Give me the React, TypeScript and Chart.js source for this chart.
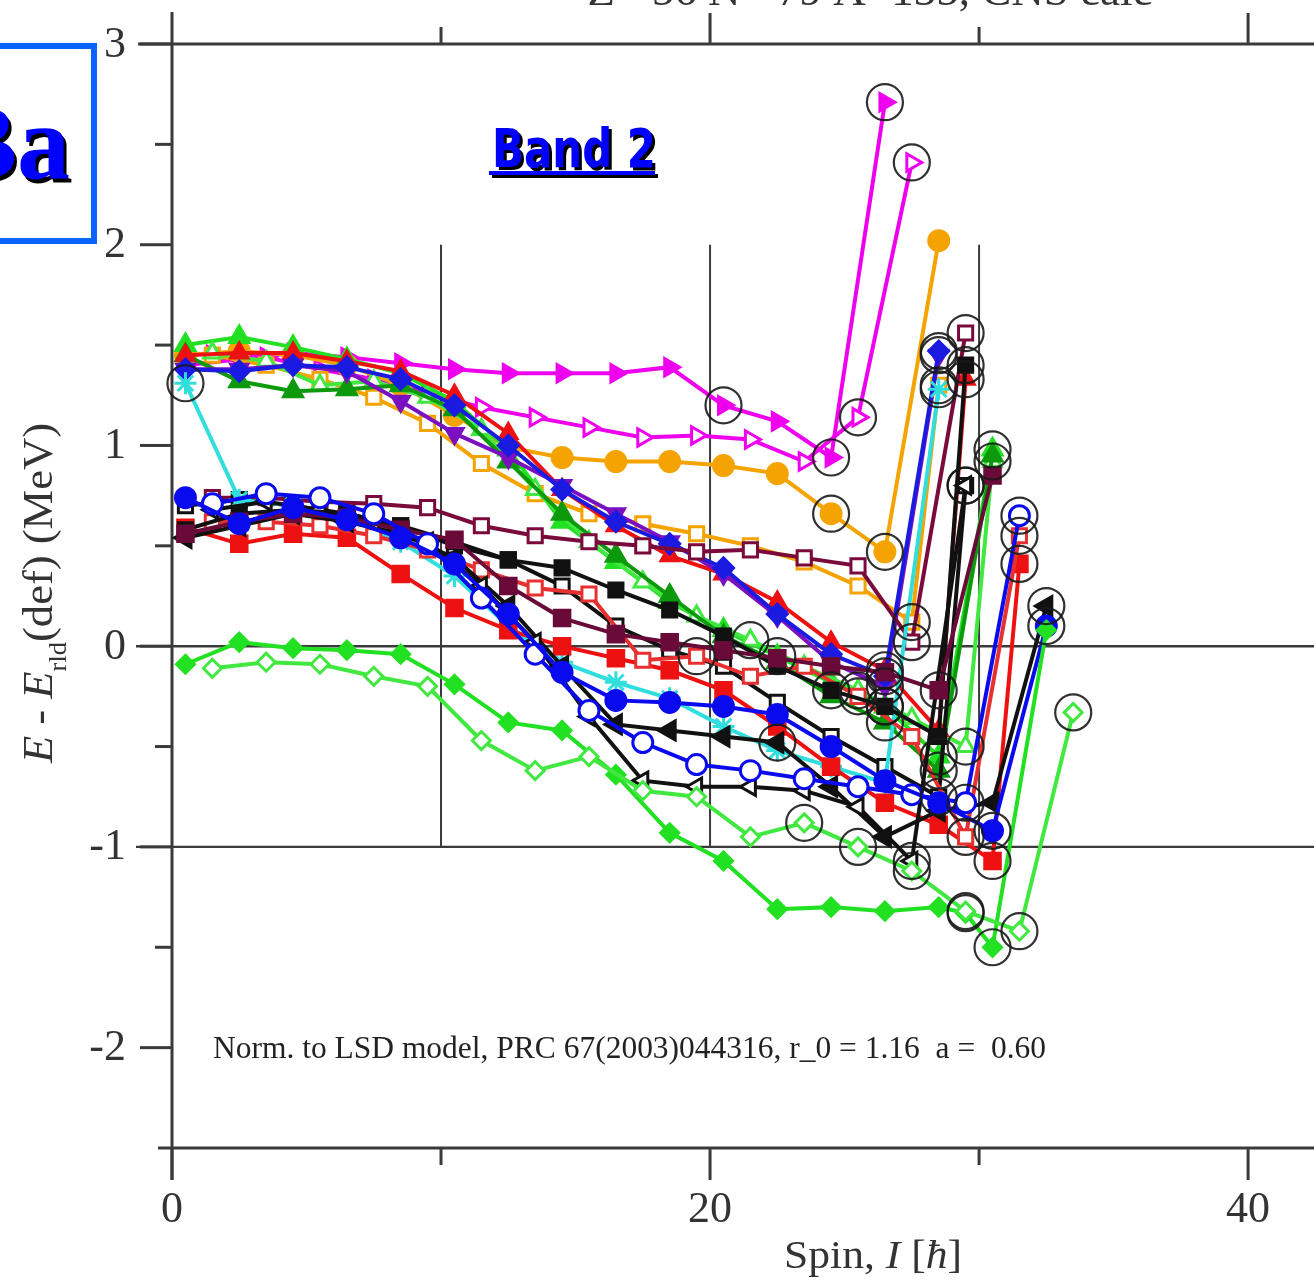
import React, { useEffect, useRef } from 'react';
import { Chart, registerables } from 'chart.js';

Chart.register(...registerables);

const W = 1314;
const H = 1287;

// axis ranges
const X_MIN = 0;
const X_MAX = 42.45;
const Y_MIN = -2.5;
const Y_MAX = 3;

// ticks
const yMajorTicks = [3, 2, 1, 0, -1, -2];
const yMinorTicks = [2.5, 1.5, 0.5, -0.5, -1.5];
const yTickLabels = ['3', '2', '1', '0', '-1', '-2'];
const xMajorTicks = [0, 20, 40];
const xMinorTicks = [10, 30];
const xTickLabels = ['0', '20', '40'];
const innerVLines = [10, 20, 30];
const innerHLines = [0, -1];

// ---- series data (spin I, energy E in MeV) ----
const magFilledI = [0.5, 2.5, 4.5, 6.5, 8.5, 10.5, 12.5, 14.5, 16.5, 18.5, 20.5, 22.5, 24.5, 26.5];
const magFilledE = [1.40, 1.43, 1.46, 1.44, 1.41, 1.38, 1.36, 1.36, 1.36, 1.39, 1.20, 1.12, 0.94, 2.71];

const magOpenI = [1.5, 3.5, 5.5, 7.5, 9.5, 11.5, 13.5, 15.5, 17.5, 19.5, 21.5, 23.5, 25.5, 27.5];
const magOpenE = [1.45, 1.44, 1.38, 1.33, 1.26, 1.19, 1.14, 1.09, 1.04, 1.05, 1.03, 0.92, 1.14, 2.41];

const orFilledI = [0.5, 2.5, 4.5, 6.5, 8.5, 10.5, 12.5, 14.5, 16.5, 18.5, 20.5, 22.5, 24.5, 26.5, 28.5];
const orFilledE = [1.45, 1.47, 1.45, 1.40, 1.30, 1.15, 0.99, 0.94, 0.92, 0.92, 0.90, 0.86, 0.66, 0.47, 2.02];

const orOpenI = [1.5, 3.5, 5.5, 7.5, 9.5, 11.5, 13.5, 15.5, 17.5, 19.5, 21.5, 23.5, 25.5, 27.5, 28.5];
const orOpenE = [1.45, 1.40, 1.33, 1.24, 1.11, 0.91, 0.76, 0.66, 0.61, 0.56, 0.50, 0.42, 0.30, 0.12, 1.30];

const marOpenI = [1.5, 3.5, 5.5, 7.5, 9.5, 11.5, 13.5, 15.5, 17.5, 19.5, 21.5, 23.5, 25.5, 27.5, 29.5];
const marOpenE = [0.74, 0.74, 0.72, 0.71, 0.69, 0.60, 0.55, 0.52, 0.50, 0.47, 0.48, 0.44, 0.40, 0.02, 1.56];

const blkOpenSqI = [0.5, 2.5, 4.5, 6.5, 8.5, 10.5, 12.5, 14.5, 16.5, 18.5, 20.5, 22.5, 24.5, 26.5, 28.5, 29.5];
const blkOpenSqE = [0.70, 0.73, 0.70, 0.66, 0.60, 0.50, 0.43, 0.30, 0.10, -0.02, -0.10, -0.28, -0.45, -0.60, -0.75, 0.80];

const grFilledI = [0.5, 2.5, 4.5, 6.5, 8.5, 10.5, 12.5, 14.5, 16.5, 18.5, 20.5, 22.5, 24.5, 26.5, 28.5, 30.5];
const grFilledE = [1.50, 1.54, 1.49, 1.43, 1.36, 1.22, 0.98, 0.62, 0.42, 0.22, 0.08, -0.05, -0.18, -0.30, -0.55, 0.98];

const grOpenI = [1.5, 3.5, 5.5, 7.5, 9.5, 11.5, 13.5, 15.5, 17.5, 19.5, 21.5, 23.5, 25.5, 27.5, 29.5, 30.5];
const grOpenE = [1.46, 1.42, 1.30, 1.32, 1.24, 1.08, 0.78, 0.52, 0.32, 0.15, 0.03, -0.10, -0.22, -0.36, -0.50, 0.92];

const dkGrI = [0.5, 2.5, 4.5, 6.5, 8.5, 10.5, 12.5, 14.5, 16.5, 18.5, 20.5, 22.5, 24.5, 26.5, 28.5, 30.5];
const dkGrE = [1.45, 1.32, 1.27, 1.28, 1.30, 1.18, 0.92, 0.66, 0.45, 0.25, 0.05, -0.08, -0.25, -0.38, -0.62, 0.95];

const redTriI = [0.5, 2.5, 4.5, 6.5, 8.5, 10.5, 12.5, 14.5, 16.5, 18.5, 20.5, 22.5, 24.5, 26.5, 28.5, 29.5];
const redTriE = [1.45, 1.46, 1.46, 1.42, 1.37, 1.25, 1.06, 0.78, 0.60, 0.45, 0.36, 0.22, 0.02, -0.12, -0.42, 1.33];

const purI = [0.5, 2.5, 4.5, 6.5, 8.5, 10.5, 12.5, 14.5, 16.5, 18.5, 20.5, 22.5, 24.5, 26.5, 28.5];
const purE = [1.38, 1.38, 1.40, 1.37, 1.22, 1.06, 0.94, 0.80, 0.66, 0.52, 0.36, 0.15, -0.08, -0.20, 1.45];

const bluUpI = [0.5, 2.5, 4.5, 6.5, 8.5, 10.5, 12.5, 14.5, 16.5, 18.5, 20.5, 22.5, 24.5, 26.5, 28.5];
const bluUpE = [1.38, 1.37, 1.40, 1.39, 1.33, 1.20, 1.00, 0.78, 0.62, 0.51, 0.39, 0.16, -0.04, -0.15, 1.47];

const cyanI = [0.5, 2.5, 4.5, 6.5, 8.5, 10.5, 12.5, 14.5, 16.5, 18.5, 20.5, 22.5, 24.5, 26.5, 28.5];
const cyanE = [1.31, 0.73, 0.70, 0.64, 0.52, 0.35, 0.10, -0.08, -0.18, -0.26, -0.40, -0.52, -0.60, -0.68, 1.28];

const bluFilledI = [0.5, 2.5, 4.5, 6.5, 8.5, 10.5, 12.5, 14.5, 16.5, 18.5, 20.5, 22.5, 24.5, 26.5, 28.5, 30.5, 32.5];
const bluFilledE = [0.74, 0.61, 0.69, 0.63, 0.54, 0.41, 0.16, -0.13, -0.27, -0.28, -0.30, -0.34, -0.50, -0.67, -0.78, -0.92, 0.10];

const bluOpenI = [1.5, 3.5, 5.5, 7.5, 9.5, 11.5, 13.5, 15.5, 17.5, 19.5, 21.5, 23.5, 25.5, 27.5, 29.5, 31.5];
const bluOpenE = [0.71, 0.76, 0.74, 0.66, 0.51, 0.24, -0.04, -0.32, -0.48, -0.59, -0.62, -0.66, -0.70, -0.74, -0.78, 0.65];

const redSqI = [0.5, 2.5, 4.5, 6.5, 8.5, 10.5, 12.5, 14.5, 16.5, 18.5, 20.5, 22.5, 24.5, 26.5, 28.5, 30.5, 31.5];
const redSqE = [0.59, 0.51, 0.56, 0.54, 0.36, 0.19, 0.08, 0.00, -0.06, -0.12, -0.22, -0.40, -0.60, -0.78, -0.89, -1.07, 0.41];

const redOpenI = [1.5, 3.5, 5.5, 7.5, 9.5, 11.5, 13.5, 15.5, 17.5, 19.5, 21.5, 23.5, 25.5, 27.5, 29.5, 31.5];
const redOpenE = [0.62, 0.62, 0.60, 0.55, 0.48, 0.38, 0.29, 0.26, -0.07, -0.05, -0.15, -0.10, -0.25, -0.45, -0.95, 0.55];

const blkTriI = [0.5, 2.5, 4.5, 6.5, 8.5, 10.5, 12.5, 14.5, 16.5, 18.5, 20.5, 22.5, 24.5, 26.5, 28.5, 30.5, 32.5];
const blkTriE = [0.54, 0.60, 0.66, 0.62, 0.56, 0.44, 0.20, -0.10, -0.39, -0.42, -0.45, -0.48, -0.70, -0.95, -0.82, -0.78, 0.20];

const blkOpenTriI = [1.5, 3.5, 5.5, 7.5, 9.5, 11.5, 13.5, 15.5, 17.5, 19.5, 21.5, 23.5, 25.5, 27.5, 29.5];
const blkOpenTriE = [0.68, 0.72, 0.68, 0.62, 0.52, 0.30, 0.02, -0.35, -0.67, -0.70, -0.70, -0.72, -0.80, -1.07, 0.80];

const blkSqI = [0.5, 2.5, 4.5, 6.5, 8.5, 10.5, 12.5, 14.5, 16.5, 18.5, 20.5, 22.5, 24.5, 26.5, 28.5, 29.5];
const blkSqE = [0.58, 0.66, 0.68, 0.66, 0.60, 0.52, 0.43, 0.39, 0.28, 0.18, 0.05, -0.10, -0.22, -0.30, -0.45, 1.40];

const marSqI = [0.5, 2.5, 4.5, 6.5, 8.5, 10.5, 12.5, 14.5, 16.5, 18.5, 20.5, 22.5, 24.5, 26.5, 28.5, 30.5];
const marSqE = [0.56, 0.62, 0.66, 0.64, 0.58, 0.53, 0.30, 0.14, 0.06, 0.02, -0.02, -0.06, -0.10, -0.13, -0.22, 0.85];

const grDiaI = [0.5, 2.5, 4.5, 6.5, 8.5, 10.5, 12.5, 14.5, 16.5, 18.5, 20.5, 22.5, 24.5, 26.5, 28.5, 29.5, 30.5, 32.5];
const grDiaE = [-0.09, 0.02, -0.01, -0.02, -0.04, -0.19, -0.38, -0.42, -0.64, -0.93, -1.07, -1.31, -1.30, -1.32, -1.30, -1.33, -1.50, 0.08];

const grOpenDiaI = [1.5, 3.5, 5.5, 7.5, 9.5, 11.5, 13.5, 15.5, 17.5, 19.5, 21.5, 23.5, 25.5, 27.5, 29.5, 31.5, 33.5];
const grOpenDiaE = [-0.11, -0.08, -0.09, -0.15, -0.20, -0.47, -0.62, -0.55, -0.72, -0.75, -0.95, -0.88, -1.00, -1.12, -1.32, -1.42, -0.33];

// ---- styles ----
type Def = {
  I: number[];
  E: number[];
  color: string;
  shape: string;
  rot: number;
  open: boolean;
  r: number;
  rings: number[];
};

const seriesDefs: Def[] = [
  { I: magFilledI, E: magFilledE, color: '#ee00ee', shape: 'triangle', rot: 90, open: false, r: 10, rings: [10, 12, 13] },
  { I: magOpenI, E: magOpenE, color: '#ee00ee', shape: 'triangle', rot: 90, open: true, r: 10, rings: [12, 13] },
  { I: orFilledI, E: orFilledE, color: '#f5a300', shape: 'circle', rot: 0, open: false, r: 10, rings: [12, 13] },
  { I: orOpenI, E: orOpenE, color: '#f5a300', shape: 'rect', rot: 0, open: true, r: 10, rings: [13, 14] },
  { I: grFilledI, E: grFilledE, color: '#22e022', shape: 'triangle', rot: 0, open: false, r: 11, rings: [11, 13, 14, 15] },
  { I: grOpenI, E: grOpenE, color: '#40e840', shape: 'triangle', rot: 0, open: true, r: 10, rings: [10, 12, 14, 15] },
  { I: dkGrI, E: dkGrE, color: '#0c9a0c', shape: 'triangle', rot: 0, open: false, r: 11, rings: [13, 14] },
  { I: redTriI, E: redTriE, color: '#ee1111', shape: 'triangle', rot: 0, open: false, r: 10, rings: [13, 15] },
  { I: purI, E: purE, color: '#7a10c0', shape: 'triangle', rot: 180, open: false, r: 10, rings: [13, 14] },
  { I: bluUpI, E: bluUpE, color: '#1a1ae0', shape: 'rectRot', rot: 0, open: false, r: 10, rings: [13, 14] },
  { I: marOpenI, E: marOpenE, color: '#7a0a3c', shape: 'rect', rot: 0, open: true, r: 10, rings: [13, 14] },
  { I: blkOpenSqI, E: blkOpenSqE, color: '#111111', shape: 'rect', rot: 0, open: true, r: 10, rings: [14, 15] },
  { I: cyanI, E: cyanE, color: '#30dede', shape: 'star', rot: 0, open: true, r: 11, rings: [0, 14] },
  { I: redSqI, E: redSqE, color: '#ee1111', shape: 'rect', rot: 0, open: false, r: 11, rings: [15, 16] },
  { I: redOpenI, E: redOpenE, color: '#e83030', shape: 'rect', rot: 0, open: true, r: 10, rings: [9, 12, 14, 15] },
  { I: blkTriI, E: blkTriE, color: '#111111', shape: 'triangle', rot: -90, open: false, r: 11, rings: [11, 16] },
  { I: blkOpenTriI, E: blkOpenTriE, color: '#111111', shape: 'triangle', rot: -90, open: true, r: 10, rings: [13, 14] },
  { I: blkSqI, E: blkSqE, color: '#111111', shape: 'rect', rot: 0, open: false, r: 10, rings: [12, 13, 15] },
  { I: marSqI, E: marSqE, color: '#6a0a38', shape: 'rect', rot: 0, open: false, r: 11, rings: [14] },
  { I: bluOpenI, E: bluOpenE, color: '#0a0aee', shape: 'circle', rot: 0, open: true, r: 10, rings: [14, 15] },
  { I: bluFilledI, E: bluFilledE, color: '#0a0aee', shape: 'circle', rot: 0, open: false, r: 10, rings: [15, 16] },
  { I: grDiaI, E: grDiaE, color: '#22e022', shape: 'rectRot', rot: 0, open: false, r: 9, rings: [15, 16] },
  { I: grOpenDiaI, E: grOpenDiaE, color: '#40e840', shape: 'rectRot', rot: 0, open: true, r: 9, rings: [11, 12, 13, 14, 15, 16] },
];

type Part = { t: string; font: string; dy?: number; w?: number };

function drawParts(ctx: CanvasRenderingContext2D, parts: Part[], targetW: number) {
  let total = 0;
  for (const p of parts) {
    ctx.font = p.font;
    p.w = ctx.measureText(p.t).width;
    total += p.w;
  }
  const s = targetW / total;
  ctx.save();
  ctx.scale(s, 1);
  let xx = -total / 2;
  ctx.textAlign = 'left';
  ctx.textBaseline = 'alphabetic';
  for (const p of parts) {
    ctx.font = p.font;
    ctx.fillText(p.t, xx, p.dy || 0);
    xx += p.w || 0;
  }
  ctx.restore();
}

const decorPlugin = {
  id: 'decor',
  beforeDatasetsDraw(chart: any) {
    const ctx: CanvasRenderingContext2D = chart.ctx;
    const xs = chart.scales.x;
    const ys = chart.scales.y;
    const px = (v: number) => xs.getPixelForValue(v);
    const py = (v: number) => ys.getPixelForValue(v);
    const area = chart.chartArea;
    const ln = (x1: number, y1: number, x2: number, y2: number) => {
      ctx.beginPath();
      ctx.moveTo(x1, y1);
      ctx.lineTo(x2, y2);
      ctx.stroke();
    };
    ctx.save();
    ctx.strokeStyle = '#3a3a3a';
    ctx.lineWidth = 3;
    const x0 = px(0);
    // main axes
    ln(x0, area.top - 32, x0, area.bottom + 32);
    ln(x0 - 34, area.top, area.right, area.top);
    ln(x0 - 14, area.bottom, area.right, area.bottom);
    // left ticks
    for (const v of yMajorTicks) ln(x0 - 32, py(v), x0, py(v));
    for (const v of yMinorTicks) ln(x0 - 17, py(v), x0, py(v));
    // bottom ticks
    for (const v of xMajorTicks) ln(px(v), area.bottom, px(v), area.bottom + 32);
    for (const v of xMinorTicks) ln(px(v), area.bottom, px(v), area.bottom + 17);
    // top ticks
    for (const v of xMajorTicks) if (v !== 0) ln(px(v), area.top, px(v), area.top - 31);
    for (const v of xMinorTicks) ln(px(v), area.top, px(v), area.top - 17);
    // inner lines
    ctx.lineWidth = 2.4;
    for (const v of innerHLines) ln(x0 - 36, py(v), area.right, py(v));
    ctx.lineWidth = 2;
    for (const v of innerVLines) ln(px(v), py(2), px(v), py(-1));
    ctx.restore();
  },
  afterDraw(chart: any) {
    const ctx: CanvasRenderingContext2D = chart.ctx;
    const xs = chart.scales.x;
    const ys = chart.scales.y;
    const px = (v: number) => xs.getPixelForValue(v);
    const py = (v: number) => ys.getPixelForValue(v);
    const area = chart.chartArea;
    const serif = '"Liberation Serif", "Times New Roman", serif';
    ctx.save();
    ctx.fillStyle = '#333';
    // tick labels
    ctx.font = `44px ${serif}`;
    ctx.textAlign = 'right';
    ctx.textBaseline = 'middle';
    yMajorTicks.forEach((v, i) => ctx.fillText(yTickLabels[i], px(0) - 46, py(v) + 1));
    ctx.textAlign = 'center';
    xMajorTicks.forEach((v, i) => ctx.fillText(xTickLabels[i], px(v), area.bottom + 62));

    // x axis title
    ctx.save();
    ctx.translate(873, 1268);
    drawParts(ctx, [
      { t: 'Spin, ', font: `39px ${serif}` },
      { t: 'I', font: `italic 39px ${serif}` },
      { t: ' [', font: `39px ${serif}` },
      { t: 'ħ', font: `italic 39px ${serif}` },
      { t: ']', font: `39px ${serif}` },
    ], 178);
    ctx.restore();

    // y axis title
    ctx.save();
    ctx.translate(52, 593);
    ctx.rotate(-Math.PI / 2);
    drawParts(ctx, [
      { t: 'E', font: `italic 42px ${serif}` },
      { t: ' - ', font: `42px ${serif}` },
      { t: 'E', font: `italic 42px ${serif}` },
      { t: 'rld', font: `25px ${serif}`, dy: 14 },
      { t: '(def) (MeV)', font: `42px ${serif}` },
    ], 340);
    ctx.restore();

    // annotation
    ctx.save();
    ctx.fillStyle = '#222';
    ctx.translate(629.5, 1058);
    drawParts(ctx, [
      { t: 'Norm. to LSD model, PRC 67(2003)044316, r_0 = 1.16  a =  0.60', font: `31px ${serif}` },
    ], 833);
    ctx.restore();

    // title (cut at top)
    ctx.save();
    ctx.fillStyle = '#333';
    ctx.translate(870, 5);
    drawParts(ctx, [{ t: 'Z= 56 N= 79 A=135, CNS calc', font: `44px ${serif}` }], 565);
    ctx.restore();

    // Ba box
    ctx.save();
    ctx.strokeStyle = '#0a64ff';
    ctx.lineWidth = 6;
    ctx.strokeRect(-20, 46, 114, 195);
    ctx.font = `bold 106px ${serif}`;
    ctx.textAlign = 'right';
    ctx.textBaseline = 'alphabetic';
    ctx.fillStyle = '#000';
    ctx.fillText('Ba', 73, 182);
    ctx.fillStyle = '#0000ff';
    ctx.fillText('Ba', 70, 178);
    ctx.restore();

    // Band 2 label
    ctx.save();
    const bandFont = `bold 54px "DejaVu Sans", sans-serif`;
    ctx.font = bandFont;
    const bw = ctx.measureText('Band 2').width;
    const sx = 164 / bw;
    ctx.textAlign = 'left';
    ctx.textBaseline = 'alphabetic';
    ctx.save();
    ctx.translate(492, 167);
    ctx.scale(sx, 1);
    ctx.fillStyle = '#000';
    ctx.fillText('Band 2', 3 / sx, 3);
    ctx.fillStyle = '#0000ff';
    ctx.fillText('Band 2', 0, 0);
    ctx.restore();
    ctx.fillStyle = '#000';
    ctx.fillRect(492, 174, 166, 4);
    ctx.fillStyle = '#0000ff';
    ctx.fillRect(489, 171, 166, 4);
    ctx.restore();

    ctx.restore();
  },
};

export default function App() {
  const ref = useRef<HTMLCanvasElement | null>(null);
  useEffect(() => {
    if (!ref.current) return;
    document.documentElement.style.overflow = 'hidden';
    document.body.style.margin = '0';
    document.body.style.overflow = 'hidden';
    const datasets: any[] = seriesDefs.map((d, idx) => ({
      data: d.I.map((v, i) => ({ x: v, y: d.E[i] })),
      showLine: true,
      borderColor: d.color,
      borderWidth: 4,
      pointStyle: d.shape,
      pointRotation: d.rot,
      pointRadius: d.r,
      pointBackgroundColor: d.open ? '#ffffff' : d.color,
      pointBorderColor: d.color,
      pointBorderWidth: 3,
      clip: false,
      order: seriesDefs.length - idx,
    }));
    const ringPts: { x: number; y: number }[] = [];
    seriesDefs.forEach((d) => d.rings.forEach((k) => ringPts.push({ x: d.I[k], y: d.E[k] })));
    datasets.push({
      data: ringPts,
      showLine: false,
      pointStyle: 'circle',
      pointRadius: 18,
      pointBorderColor: 'rgba(25,25,25,0.9)',
      pointBorderWidth: 2.2,
      pointBackgroundColor: 'rgba(0,0,0,0)',
      clip: false,
      order: -1,
    });
    const chart = new Chart(ref.current, {
      type: 'scatter',
      data: { datasets },
      options: {
        animation: false,
        responsive: true,
        maintainAspectRatio: false,
        devicePixelRatio: 1,
        layout: { autoPadding: false, padding: { left: 172, top: 44, right: 0, bottom: H - 1148 } },
        plugins: { legend: { display: false }, tooltip: { enabled: false } },
        scales: {
          x: { type: 'linear', min: X_MIN, max: X_MAX, display: false },
          y: { type: 'linear', min: Y_MIN, max: Y_MAX, display: false },
        },
        events: [],
      },
      plugins: [decorPlugin],
    } as any);
    return () => chart.destroy();
  }, []);
  return (
    <div style={{ position: 'fixed', left: 0, top: 0, width: W, height: H, background: '#fff', overflow: 'hidden' }}>
      <canvas ref={ref} style={{ display: 'block' }} />
    </div>
  );
}
